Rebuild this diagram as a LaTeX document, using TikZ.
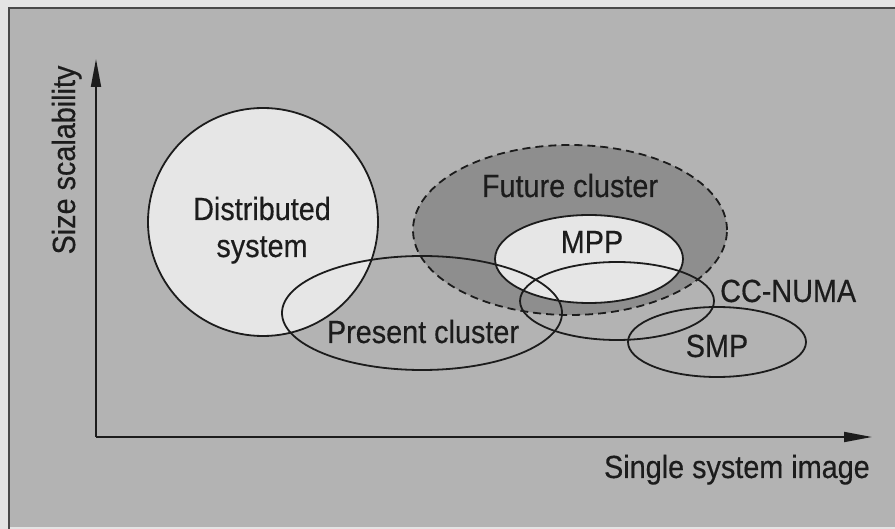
\documentclass[tikz,border=0pt]{standalone}
\usepackage{fontspec}
\setmainfont{Liberation Sans}[FakeStretch=0.9,FakeBold=0.4]
\usetikzlibrary{shapes.geometric,arrows.meta}
\definecolor{pagebg}{HTML}{E4E4E4}
\definecolor{panelbg}{HTML}{B3B3B3}
\definecolor{darkfill}{HTML}{8E8E8E}
\definecolor{lightfill}{HTML}{E6E6E6}
\definecolor{ink}{HTML}{1C1C1C}
\tikzset{
  region/.style={ellipse, draw=ink, line width=1.8pt, inner sep=0pt, outer sep=0pt},
  lbl/.style={text=ink, inner sep=0pt, font=\fontsize{32}{37}\selectfont},
  axis/.style={draw=ink, line width=1.8pt, -{Triangle[length=28pt,width=10pt]}},
}
\begin{document}
\begin{tikzpicture}[x=1pt,y=-1pt]
\useasboundingbox (0,0) rectangle (895,529);
\fill[pagebg] (0,0) rectangle (895,529);
\fill[panelbg] (9,8) rectangle (895,527);
\draw[ink!80, line width=2pt] (9,529) -- (9,8) -- (895,8);
% regions
\node[region, fill=lightfill, minimum width=230pt, minimum height=228pt] (dist) at (263,222) {};
\node[region, fill=darkfill, dashed, dash pattern=on 8pt off 5pt, minimum width=314pt, minimum height=170pt] (future) at (570,230) {};
\node[region, fill=lightfill, minimum width=188pt, minimum height=88pt] (mpp) at (589,259) {};
\node[region, minimum width=280pt, minimum height=114pt] (present) at (422,313) {};
\node[region, minimum width=194pt, minimum height=78pt] (ccnuma) at (617,301) {};
\node[region, minimum width=178pt, minimum height=70pt] (smp) at (717,342) {};
% axes
\coordinate (origin) at (96,437);
\coordinate (ytip) at (96,59);
\coordinate (xtip) at (872,437);
\draw[axis] (origin) -- (ytip);
\draw[axis] (origin) -- (xtip);
% labels
\node[lbl, anchor=base, rotate=90] (ylab) at (75,160) {Size scalability};
\node[lbl, anchor=base east] (xlab) at (870,478) {Single system image};
\node[lbl, anchor=base] (distlab1) at (262,220) {Distributed};
\node[lbl, anchor=base] (distlab2) at (262,257) {system};
\node[lbl, anchor=base] (futlab) at (570,197) {Future cluster};
\node[lbl, anchor=base] (mpplab) at (592,253) {MPP};
\node[lbl, anchor=base west] (cclab) at (720,302) {CC-NUMA};
\node[lbl, anchor=base] (smplab) at (717,357) {SMP};
\node[lbl, anchor=base] (preslab) at (423,343) {Present cluster};
\end{tikzpicture}
\end{document}
